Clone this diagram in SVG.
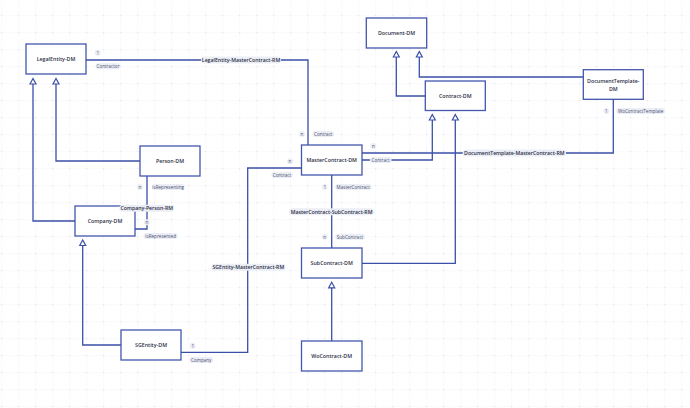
<svg xmlns="http://www.w3.org/2000/svg" width="690" height="408" viewBox="0 0 690 408">
<style>
.node rect{fill:#ffffff;stroke:#4456ad;stroke-width:1.3}
.node text{font-family:"Open Sans","Noto Sans",sans-serif;font-size:5.3px;font-weight:600;fill:#2b2e45;text-anchor:middle;dominant-baseline:central}
.conn path{fill:none;stroke:#3a4fa8;stroke-width:1.3}
.inh{marker-end:url(#tri)}
.rl rect{fill:#eceef6}
.rl text{font-family:"Open Sans","Noto Sans",sans-serif;font-size:5.2px;font-weight:600;fill:#2b2e45;text-anchor:middle;dominant-baseline:central}
.sl rect{fill:#eceef6}
.sl text{font-family:"Open Sans","Noto Sans",sans-serif;font-size:4.6px;fill:#4b5070;text-anchor:middle;dominant-baseline:central}
</style>
<defs>
<pattern id="grid" patternUnits="userSpaceOnUse" x="1.2" y="15.2" width="17" height="17">
<path d="M0.5 0 V17 M0 0.5 H17" stroke="#f4f5fa" stroke-width="0.5" fill="none"/>
<rect x="0" y="0" width="1" height="1" fill="#d6dae8"/>
</pattern>
<marker id="tri" markerUnits="userSpaceOnUse" markerWidth="9" markerHeight="9" refX="0.5" refY="3" orient="auto" viewBox="-1 -1 9 8" overflow="visible">
<path d="M0 0 L5.6 3 L0 6 Z" fill="#ffffff" stroke="#3a4fa8" stroke-width="1.2"/>
</marker>
</defs>
<rect width="690" height="408" fill="#ffffff"/>
<rect width="690" height="408" fill="url(#grid)"/>

<g id="LegalEntity-DM" class="node"><rect x="26" y="44" width="60" height="30"/><text x="56" y="59">LegalEntity-DM</text></g>
<g id="Person-DM" class="node"><rect x="140" y="146" width="60" height="30"/><text x="170" y="161">Person-DM</text></g>
<g id="Company-DM" class="node"><rect x="75" y="206" width="60" height="30"/><text x="105" y="221">Company-DM</text></g>
<g id="SGEntity-DM" class="node"><rect x="121" y="330" width="60" height="30"/><text x="151" y="345">SGEntity-DM</text></g>
<g id="MasterContract-DM" class="node"><rect x="301.5" y="145" width="60.5" height="30"/><text x="331.7" y="160">MasterContract-DM</text></g>
<g id="SubContract-DM" class="node"><rect x="301.5" y="248" width="60.5" height="30"/><text x="331.7" y="263">SubContract-DM</text></g>
<g id="WoContract-DM" class="node"><rect x="301.5" y="341" width="60.5" height="30"/><text x="331.7" y="356">WoContract-DM</text></g>
<g id="Document-DM" class="node"><rect x="366.3" y="18" width="60.4" height="30"/><text x="396.5" y="33">Document-DM</text></g>
<g id="Contract-DM" class="node"><rect x="425.3" y="81" width="60" height="29.5"/><text x="455.3" y="96">Contract-DM</text></g>
<g id="DocumentTemplate-DM" class="node"><rect x="583.3" y="69.7" width="60" height="29.6"/><text x="613.3" y="81.3">DocumentTemplate-</text><text x="613.3" y="88.7">DM</text></g>

<g id="connectors" class="conn">
<path d="M86 60 H308 V145"/>
<path class="inh" d="M140 161 H56 V83.5"/>
<path class="inh" d="M75 221 H33 V83.5"/>
<path d="M147 176 V229 H135"/>
<path class="inh" d="M121 345 H82.7 V245"/>
<path d="M181 352.3 H247.7 V168 H301.5"/>
<path class="inh" d="M362 160 H432.3 V119.5"/>
<path d="M362 153 H613.3 V99.3"/>
<path class="inh" d="M362 263.3 H455.3 V119.5"/>
<path d="M331.7 175 V248"/>
<path class="inh" d="M331.7 341 V287.3"/>
<path class="inh" d="M425.3 96 H396.3 V56.5"/>
<path class="inh" d="M583.3 77 H419.3 V56.5"/>
</g>

<g id="labels">
<g class="rl">
<rect x="201" y="56.5" width="80" height="7" rx="3.5"/><text x="241" y="60">LegalEntity-MasterContract-RM</text>
<rect x="119.3" y="204.8" width="55" height="7" rx="3.5"/><text x="146.8" y="208.3">Company-Person-RM</text>
<rect x="211.3" y="263.8" width="74" height="7" rx="3.5"/><text x="248.3" y="267.3">SGEntity-MasterContract-RM</text>
<rect x="289" y="208.2" width="85" height="7" rx="3.5"/><text x="331.6" y="211.7">MasterContract-SubContract-RM</text>
<rect x="462.7" y="149.5" width="103.3" height="7" rx="3.5"/><text x="514.3" y="153">DocumentTemplate-MasterContract-RM</text>
</g>
<g class="sl">
<rect x="94.7" y="49.7" width="6" height="6" rx="3"/><text x="97.7" y="52.7">1</text>
<rect x="95.5" y="63.3" width="25" height="6" rx="3"/><text x="108" y="66.3">Contractor</text>
<rect x="299" y="131" width="6" height="6" rx="3"/><text x="302" y="134">n</text>
<rect x="312.5" y="131" width="21.7" height="6" rx="3"/><text x="323.3" y="134">Contract</text>
<rect x="137" y="184" width="6" height="6" rx="3"/><text x="140" y="187">n</text>
<rect x="151.8" y="184" width="32.7" height="6" rx="3"/><text x="168.2" y="187">isRepresenting</text>
<rect x="144" y="219.3" width="6" height="6" rx="3"/><text x="147" y="222.3">n</text>
<rect x="143.5" y="233" width="34.3" height="6" rx="3"/><text x="160.7" y="236">isRepresented</text>
<rect x="189.7" y="342.7" width="6" height="6" rx="3"/><text x="192.7" y="345.7">1</text>
<rect x="189.2" y="357" width="24" height="6" rx="3"/><text x="201.2" y="360">Company</text>
<rect x="287" y="158.3" width="6" height="6" rx="3"/><text x="290" y="161.3">n</text>
<rect x="271.2" y="172" width="21.7" height="6" rx="3"/><text x="282" y="175">Contract</text>
<rect x="370.3" y="143" width="6" height="6" rx="3"/><text x="373.3" y="146">n</text>
<rect x="369.8" y="157" width="21.7" height="6" rx="3"/><text x="380.7" y="160">Contract</text>
<rect x="603.3" y="108" width="6" height="6" rx="3"/><text x="606.3" y="111">1</text>
<rect x="616.2" y="108" width="49" height="6" rx="3"/><text x="640.7" y="111">WoContractTemplate</text>
<rect x="321.7" y="184" width="6" height="6" rx="3"/><text x="324.7" y="187">1</text>
<rect x="335.2" y="184" width="36.3" height="6" rx="3"/><text x="353.3" y="187">MasterContract</text>
<rect x="321.7" y="233.7" width="6" height="6" rx="3"/><text x="324.7" y="236.7">n</text>
<rect x="335.2" y="233.7" width="29.7" height="6" rx="3"/><text x="350" y="236.7">SubContract</text>
</g>
</g>
</svg>
